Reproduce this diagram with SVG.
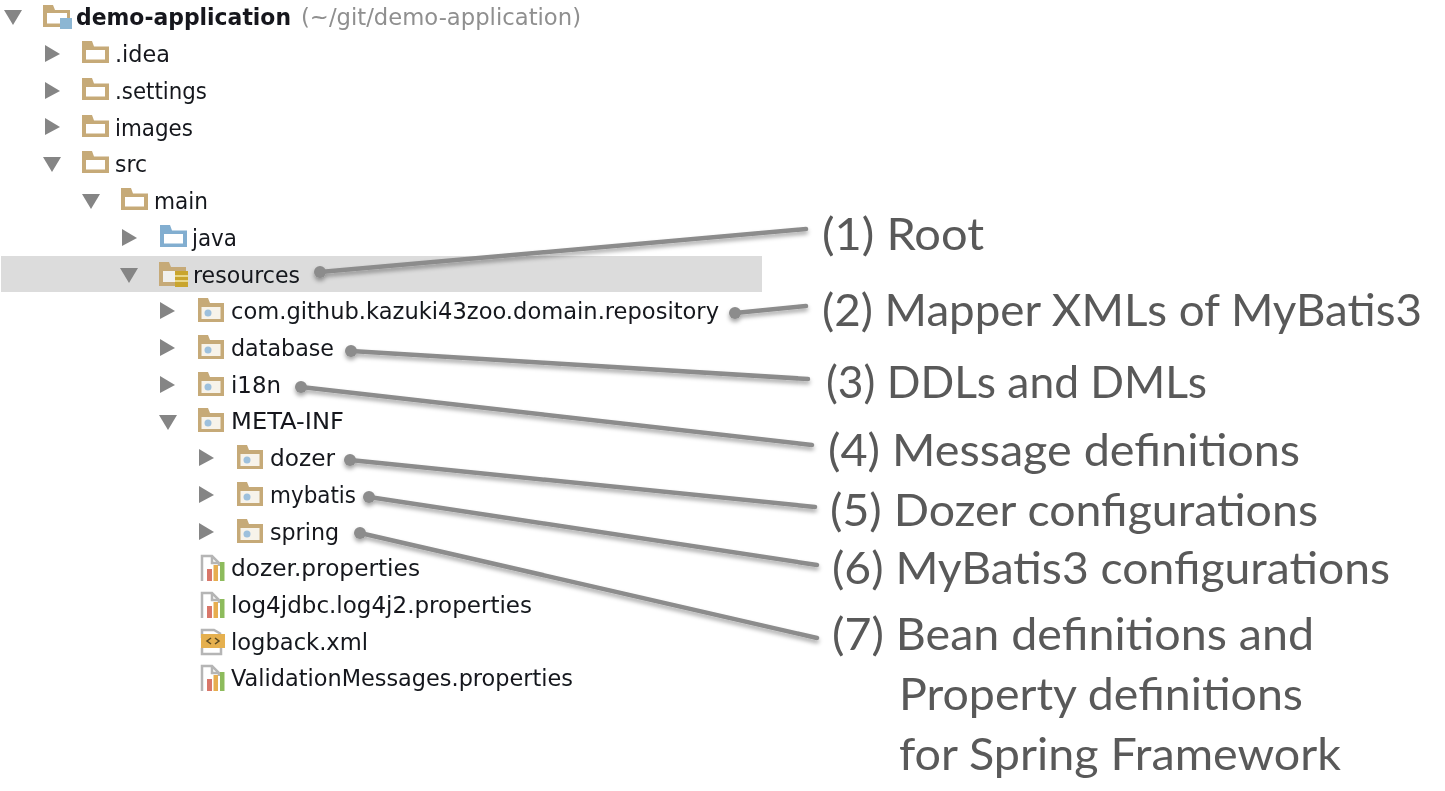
<svg xmlns="http://www.w3.org/2000/svg" width="1445" height="791" viewBox="0 0 1445 791">
<style>
.t{font-family:"DejaVu Sans",sans-serif;font-size:23px;fill:#14181d}
.l{font-family:"Lato","Open Sans",sans-serif;font-size:45px;fill:#595959}
.c{fill:none;stroke:#8c8c8c;stroke-width:4.5;stroke-linecap:round}
.d{fill:#8c8c8c}
.a{fill:#858585}
</style>
<defs>
<filter id="sh" x="-5%" y="-50%" width="110%" height="200%"><feDropShadow dx="0" dy="3" stdDeviation="2" flood-color="#000" flood-opacity=".35"/></filter>
<filter id="soft" x="0" y="0" width="100%" height="100%"><feGaussianBlur stdDeviation="0.4"/></filter>
<path id="r" class="a" d="M-1-9L14 0L-1 8Z"/>
<path id="e" class="a" d="M-9-7H9L0 8Z"/>
<g id="f"><path fill="#c6aa78" d="M0-13H10L12-7.500H27V9H0Z"/><rect x="4" y="-4" width="19" height="9.500" fill="#fff"/></g>
<g id="p"><path fill="#c6aa78" d="M0-13H10L12-8H26V11H0Z"/><rect x="3.500" y="-4" width="19" height="12" fill="#f7f3ea"/><circle cx="10" cy="2" r="3.500" fill="#9dc0dc"/></g>
<g id="b"><path fill="#82aed0" d="M0-13H10L12-7.500H27V9H0Z"/><rect x="4" y="-4" width="19" height="9.500" fill="#fff"/></g>
<g id="x"><path fill="none" stroke="#b5b5b5" stroke-width="2.500" d="M2 13V-12H12L19-5V-2"/><path fill="none" stroke="#b5b5b5" stroke-width="2.500" d="M12-12V-5H19"/><rect x="7" y="1" width="5" height="12" fill="#d9776b"/><rect x="13.500" y="-3" width="4.500" height="16" fill="#e7ad4f"/><rect x="20" y="-6" width="4.500" height="19" fill="#8dbb5c"/></g>
</defs>
<rect width="1445" height="791" fill="#fff"/>
<rect id="selection" x="1" y="256" width="761" height="36" fill="#dcdcdc"/>
<g id="tree" filter="url(#soft)">
<g id="n-root"><use href="#e" x="13" y="17"/><path fill="#c6aa78" d="M43 5H53L55 10H70V27H43Z"/><rect x="47" y="13" width="20" height="10.500" fill="#fff"/><rect x="60" y="18" width="12" height="11" fill="#8cb6d3"/><text class="t" x="76" y="25" font-weight="700" textLength="215" lengthAdjust="spacingAndGlyphs">demo-application</text><text class="t" x="301" y="25" style="fill:#8f8f8f" textLength="280" lengthAdjust="spacingAndGlyphs">(~/git/demo-application)</text></g>
<g id="n-idea"><use href="#r" x="46" y="54"/><use href="#f" x="82" y="54"/><text class="t" x="115" y="62" textLength="55" lengthAdjust="spacingAndGlyphs">.idea</text></g>
<g id="n-settings"><use href="#r" x="46" y="91"/><use href="#f" x="82" y="91"/><text class="t" x="115" y="99" textLength="92" lengthAdjust="spacingAndGlyphs">.settings</text></g>
<g id="n-images"><use href="#r" x="46" y="127"/><use href="#f" x="82" y="128"/><text class="t" x="115" y="136" textLength="78" lengthAdjust="spacingAndGlyphs">images</text></g>
<g id="n-src"><use href="#e" x="52" y="164"/><use href="#f" x="82" y="164"/><text class="t" x="115" y="172" textLength="32" lengthAdjust="spacingAndGlyphs">src</text></g>
<g id="n-main"><use href="#e" x="91" y="201"/><use href="#f" x="121" y="201"/><text class="t" x="154" y="209" textLength="54" lengthAdjust="spacingAndGlyphs">main</text></g>
<g id="n-java"><use href="#r" x="123" y="238"/><use href="#b" x="160" y="238"/><text class="t" x="192" y="246" textLength="45" lengthAdjust="spacingAndGlyphs">java</text></g>
<g id="n-resources"><use href="#e" x="129" y="275"/><path fill="#c6aa78" d="M159 262H169L171 267H186V286H159Z"/><rect x="163" y="271" width="19" height="11" fill="#f0f0ee"/><rect x="175" y="271" width="13" height="16" fill="#c9a52f"/><path stroke="#f3e7a8" stroke-width="1.500" d="M175 276H188M175 281H188"/><text class="t" x="193" y="283" textLength="107" lengthAdjust="spacingAndGlyphs">resources</text></g>
<g id="n-repository"><use href="#r" x="161" y="311"/><use href="#p" x="198" y="311"/><text class="t" x="231" y="319" textLength="488" lengthAdjust="spacingAndGlyphs">com.github.kazuki43zoo.domain.repository</text></g>
<g id="n-database"><use href="#r" x="161" y="348"/><use href="#p" x="198" y="348"/><text class="t" x="231" y="356" textLength="103" lengthAdjust="spacingAndGlyphs">database</text></g>
<g id="n-i18n"><use href="#r" x="161" y="385"/><use href="#p" x="198" y="385"/><text class="t" x="231" y="393" textLength="50" lengthAdjust="spacingAndGlyphs">i18n</text></g>
<g id="n-meta"><use href="#e" x="168" y="422"/><use href="#p" x="198" y="421"/><text class="t" x="231" y="429" textLength="113" lengthAdjust="spacingAndGlyphs">META-INF</text></g>
<g id="n-dozer"><use href="#r" x="200" y="458"/><use href="#p" x="237" y="458"/><text class="t" x="270" y="466" textLength="65" lengthAdjust="spacingAndGlyphs">dozer</text></g>
<g id="n-mybatis"><use href="#r" x="200" y="495"/><use href="#p" x="237" y="495"/><text class="t" x="270" y="503" textLength="86" lengthAdjust="spacingAndGlyphs">mybatis</text></g>
<g id="n-spring"><use href="#r" x="200" y="532"/><use href="#p" x="237" y="532"/><text class="t" x="270" y="540" textLength="69" lengthAdjust="spacingAndGlyphs">spring</text></g>
<g id="n-dozerprops"><use href="#x" x="200" y="568"/><text class="t" x="231" y="576" textLength="189" lengthAdjust="spacingAndGlyphs">dozer.properties</text></g>
<g id="n-log4"><use href="#x" x="200" y="605"/><text class="t" x="231" y="613" textLength="301" lengthAdjust="spacingAndGlyphs">log4jdbc.log4j2.properties</text></g>
<g id="n-logback"><path fill="none" stroke="#b5b5b5" stroke-width="2.500" d="M202 638V630H214L221 634M202 648V654H221V648"/><rect x="201" y="634" width="24" height="14" fill="#e5b04f"/><path fill="none" stroke="#5b4a24" stroke-width="1.500" d="M211 638L207 641L211 644M215 638L219 641L215 644"/><text class="t" x="231" y="650" textLength="137" lengthAdjust="spacingAndGlyphs">logback.xml</text></g>
<g id="n-validation"><use href="#x" x="200" y="678"/><text class="t" x="231" y="686" textLength="342" lengthAdjust="spacingAndGlyphs">ValidationMessages.properties</text></g>
</g>
<g id="connectors" filter="url(#sh)">
<path class="c" d="M320 272L806 229"/><circle class="d" cx="320" cy="272" r="6"/>
<path class="c" d="M735 313L806 306"/><circle class="d" cx="735" cy="313" r="6"/>
<path class="c" d="M351 351L808 379"/><circle class="d" cx="351" cy="351" r="6"/>
<path class="c" d="M301 387L812 445"/><circle class="d" cx="301" cy="387" r="6"/>
<path class="c" d="M350 460L815 507"/><circle class="d" cx="350" cy="460" r="6"/>
<path class="c" d="M369 497L817 565"/><circle class="d" cx="369" cy="497" r="6"/>
<path class="c" d="M360 533L817 638"/><circle class="d" cx="360" cy="533" r="6"/>
</g>
<g id="labels">
<g id="l1"><text class="l" x="822" y="250" textLength="162" lengthAdjust="spacingAndGlyphs">(1) Root</text></g>
<g id="l2"><text class="l" x="822" y="326" textLength="600" lengthAdjust="spacingAndGlyphs">(2) Mapper XMLs of MyBatis3</text></g>
<g id="l3"><text class="l" x="826" y="398" textLength="381" lengthAdjust="spacingAndGlyphs">(3) DDLs and DMLs</text></g>
<g id="l4"><text class="l" x="828" y="466" textLength="472" lengthAdjust="spacingAndGlyphs">(4) Message definitions</text></g>
<g id="l5"><text class="l" x="830" y="526" textLength="488" lengthAdjust="spacingAndGlyphs">(5) Dozer configurations</text></g>
<g id="l6"><text class="l" x="832" y="584" textLength="558" lengthAdjust="spacingAndGlyphs">(6) MyBatis3 configurations</text></g>
<g id="l7"><text class="l" x="832" y="650" textLength="482" lengthAdjust="spacingAndGlyphs">(7) Bean definitions and</text><text class="l" x="899" y="710" textLength="404" lengthAdjust="spacingAndGlyphs">Property definitions</text><text class="l" x="899" y="770" textLength="442" lengthAdjust="spacingAndGlyphs">for Spring Framework</text></g>
</g>
</svg>
